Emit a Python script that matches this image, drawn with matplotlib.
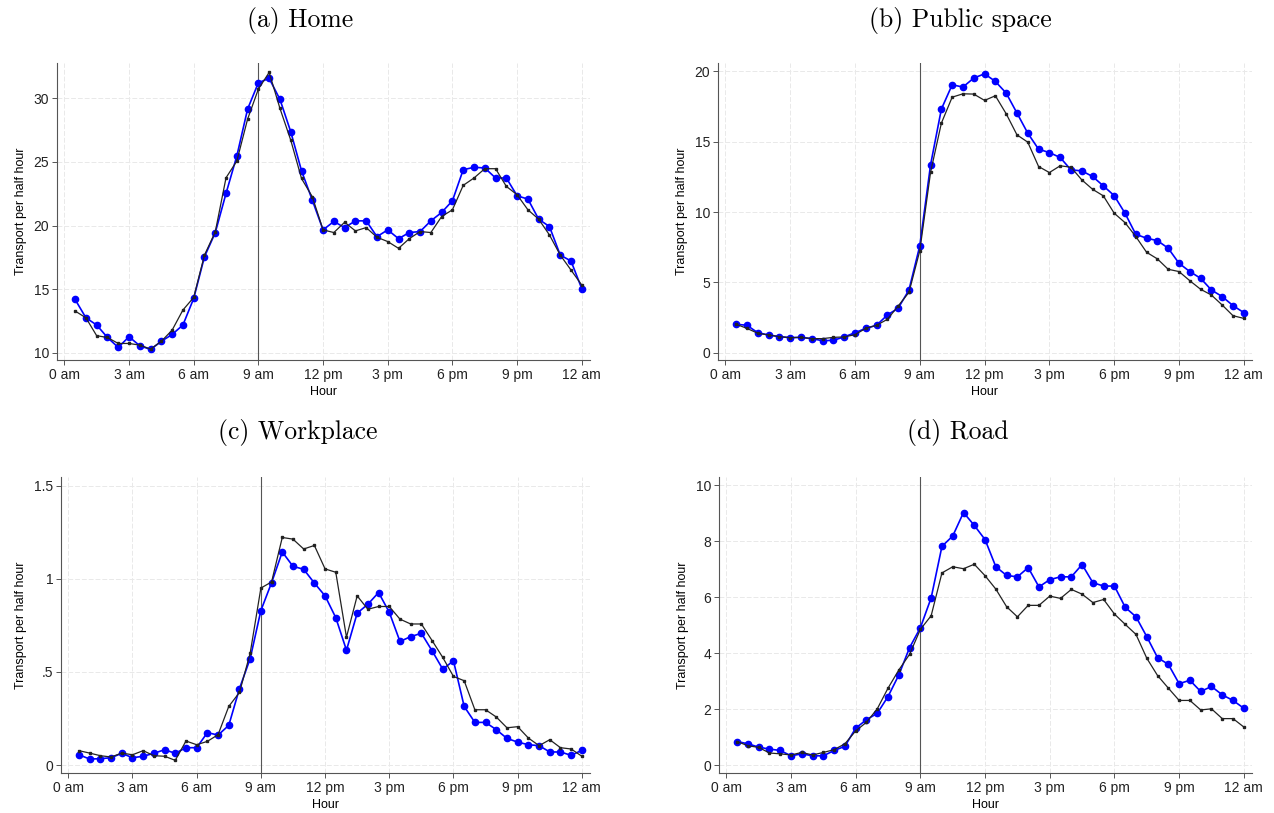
import matplotlib
matplotlib.use("Agg")
import matplotlib.pyplot as plt
import numpy as np

hours = np.arange(1, 49) * 0.5  # 0.5 ... 24.0

home_blue = [14.19, 12.75, 12.18, 11.2, 10.42, 11.26, 10.55, 10.26, 10.9, 11.44, 12.18, 14.27,
             17.55, 19.44, 22.53, 25.47, 29.16, 31.23, 31.57, 29.92, 27.38, 24.31, 22.0, 19.66,
             20.32, 19.84, 20.37, 20.37, 19.13, 19.66, 18.97, 19.45, 19.53, 20.37, 21.03, 21.95,
             24.39, 24.58, 24.53, 23.74, 23.74, 22.34, 22.08, 20.5, 19.92, 17.68, 17.21, 15.03]
home_black = [13.28, 12.75, 11.34, 11.2, 10.73, 10.73, 10.6, 10.29, 10.9, 11.78, 13.36, 14.35,
              17.68, 19.5, 23.76, 25.07, 28.37, 30.73, 32.04, 29.21, 26.72, 23.7, 22.27, 19.66,
              19.45, 20.26, 19.58, 19.84, 19.08, 18.74, 18.21, 18.97, 19.53, 19.45, 20.71, 21.24,
              23.16, 23.74, 24.47, 24.47, 23.08, 22.42, 21.24, 20.5, 19.26, 17.68, 16.5, 15.32]

public_blue = [2.02, 1.95, 1.42, 1.26, 1.14, 1.07, 1.09, 1.0, 0.85, 0.88, 1.12, 1.42,
               1.73, 1.95, 2.68, 3.16, 4.46, 7.59, 13.36, 17.32, 19.05, 18.89, 19.53, 19.83,
               19.29, 18.46, 17.04, 15.61, 14.47, 14.23, 13.88, 13.0, 12.93, 12.53, 11.86, 11.17,
               9.92, 8.42, 8.14, 7.97, 7.43, 6.36, 5.77, 5.29, 4.46, 3.99, 3.35, 2.85]
public_black = [2.02, 1.73, 1.38, 1.26, 1.14, 1.07, 1.09, 1.0, 1.0, 1.09, 1.12, 1.28,
                1.73, 1.95, 2.37, 3.32, 4.29, 7.24, 12.83, 16.32, 18.17, 18.41, 18.39, 17.94,
                18.27, 16.99, 15.49, 14.97, 13.24, 12.81, 13.29, 13.19, 12.29, 11.62, 11.15, 9.92,
                9.25, 8.26, 7.14, 6.67, 5.93, 5.77, 5.12, 4.51, 4.1, 3.39, 2.63, 2.44]

work_blue = [0.055, 0.032, 0.034, 0.039, 0.063, 0.039, 0.047, 0.063, 0.082, 0.063, 0.093, 0.093,
             0.174, 0.161, 0.213, 0.411, 0.572, 0.83, 0.98, 1.145, 1.068, 1.052, 0.978, 0.909,
             0.792, 0.617, 0.816, 0.864, 0.927, 0.821, 0.664, 0.69, 0.708, 0.614, 0.515, 0.56,
             0.315, 0.229, 0.229, 0.19, 0.143, 0.123, 0.109, 0.104, 0.07, 0.07, 0.052, 0.079]
work_black = [0.077, 0.064, 0.05, 0.043, 0.064, 0.055, 0.077, 0.05, 0.047, 0.025, 0.129, 0.109,
              0.127, 0.163, 0.315, 0.39, 0.601, 0.951, 0.984, 1.223, 1.214, 1.161, 1.18, 1.054,
              1.036, 0.687, 0.909, 0.837, 0.852, 0.852, 0.784, 0.758, 0.758, 0.669, 0.578, 0.476,
              0.453, 0.297, 0.297, 0.258, 0.2, 0.206, 0.145, 0.104, 0.136, 0.093, 0.086, 0.047]

road_blue = [0.84, 0.76, 0.64, 0.57, 0.52, 0.33, 0.4, 0.33, 0.33, 0.52, 0.67, 1.32,
             1.62, 1.85, 2.45, 3.22, 4.2, 4.91, 5.98, 7.82, 8.19, 9.03, 8.57, 8.06,
             7.09, 6.78, 6.73, 7.06, 6.37, 6.63, 6.73, 6.73, 7.17, 6.52, 6.4, 6.4,
             5.64, 5.3, 4.59, 3.84, 3.6, 2.91, 3.03, 2.63, 2.81, 2.51, 2.31, 2.03]
road_black = [0.84, 0.69, 0.63, 0.43, 0.4, 0.36, 0.45, 0.36, 0.45, 0.55, 0.76, 1.22,
              1.53, 2.01, 2.75, 3.4, 3.96, 4.85, 5.34, 6.87, 7.09, 7.02, 7.18, 6.77,
              6.29, 5.66, 5.3, 5.71, 5.71, 6.04, 5.96, 6.28, 6.11, 5.81, 5.92, 5.4,
              5.03, 4.67, 3.82, 3.2, 2.75, 2.31, 2.31, 1.97, 2.01, 1.66, 1.66, 1.36]

titles = ["(a) Home", "(b) Public space", "(c) Workplace", "(d) Road"]
xticks = [0, 3, 6, 9, 12, 15, 18, 21, 24]
xticklabels = ["0 am", "3 am", "6 am", "9 am", "12 pm", "3 pm", "6 pm", "9 pm", "12 am"]
yticks_list = [[10, 15, 20, 25, 30], [0, 5, 10, 15, 20], [0, 0.5, 1, 1.5], [0, 2, 4, 6, 8, 10]]
yticklabels_list = [["10", "15", "20", "25", "30"], ["0", "5", "10", "15", "20"],
                    ["0", ".5", "1", "1.5"], ["0", "2", "4", "6", "8", "10"]]
ylims = [(9.43, 32.78), (-0.52, 20.6), (-0.043, 1.548), (-0.285, 10.3)]
series = [(home_blue, home_black), (public_blue, public_black),
          (work_blue, work_black), (road_blue, road_black)]

W, H = 1274, 813
fig = plt.figure(figsize=(W / 100, H / 100), dpi=100)

# axes boxes in pixels: left, right, top, bottom
boxes = [(57, 590, 63, 360), (718, 1252, 63, 360), (61, 590, 477, 773), (719, 1252, 477, 773)]
title_pos = [(300, 20), (960, 20), (298, 432), (958, 432)]

sans = ["Liberation Sans", "DejaVu Sans"]

for i in range(4):
    l, r, t, b = boxes[i]
    ax = fig.add_axes([l / W, 1 - b / H, (r - l) / W, (b - t) / H])
    blue, black = series[i]
    ax.set_xlim(-0.34, 24.38)
    ax.set_ylim(*ylims[i])
    ax.set_xticks(xticks)
    ax.set_xticklabels(xticklabels, fontfamily=sans, fontsize=10)
    ax.set_yticks(yticks_list[i])
    ax.set_yticklabels(yticklabels_list[i], fontfamily=sans, fontsize=10)
    ax.grid(True, color="#e9e9e9", linewidth=0.7, linestyle=(0, (5, 2)))
    ax.set_axisbelow(True)
    for s in ["top", "right"]:
        ax.spines[s].set_visible(False)
    for s in ["left", "bottom"]:
        ax.spines[s].set_color("#555555")
        ax.spines[s].set_linewidth(0.8)
    ax.tick_params(direction="out", length=3.5, width=0.7, color="#555555", labelcolor="#222222", pad=2)
    ax.axvline(9, color="#555555", linewidth=0.8, zorder=1)
    ax.plot(hours, blue, color="#0000ff", linewidth=1.2, marker="o", markersize=4.5, zorder=3)
    ax.plot(hours, black, color="#222222", linewidth=0.9, marker="s", markersize=2.0, zorder=4)
    ax.set_xlabel("Hour", fontfamily=sans, fontsize=9, labelpad=3)
    ax.set_ylabel("Transport per half hour", fontfamily=sans, fontsize=9, labelpad=5)
    tx, ty = title_pos[i]
    fig.text(tx / W, 1 - ty / H, titles[i], fontfamily="cmr10", fontsize=18.5,
             ha="center", va="center")

fig.savefig("out.png", dpi=100)
